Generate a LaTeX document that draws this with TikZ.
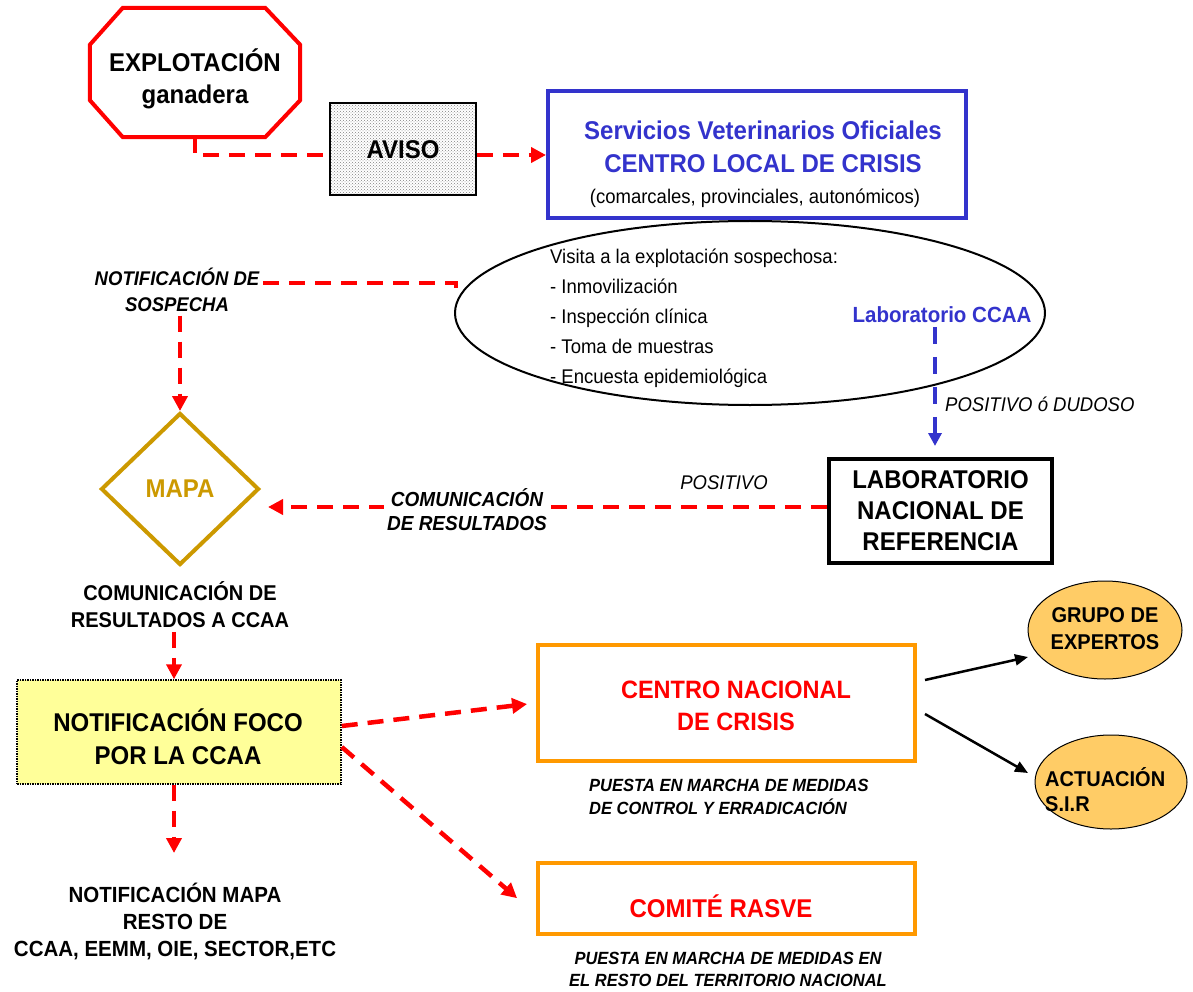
\documentclass[tikz,border=0pt]{standalone}
\usepackage{fontspec}
\setmainfont{Liberation Sans}[Scale=1.07,FakeStretch=0.935]
\usetikzlibrary{shapes.geometric,arrows.meta,patterns,calc}
\definecolor{vred}{HTML}{FF0000}
\definecolor{vblue}{HTML}{3333CC}
\definecolor{vgold}{HTML}{CC9900}
\definecolor{vorange}{HTML}{FF9900}
\definecolor{vyellow}{HTML}{FFFF99}
\definecolor{vpeach}{HTML}{FFCC66}
\newcommand\fsz[2]{\fontsize{#1pt}{#2pt}\selectfont}
\begin{document}
\begin{tikzpicture}[x=1pt,y=-1pt,
  rd/.style={draw=vred,line width=4.5pt,dash pattern=on 16pt off 10pt},
  rda/.style={rd,-{Triangle[length=15pt,width=15pt]}},
  bd/.style={draw=vblue,line width=4pt,dash pattern=on 17pt off 13pt,-{Triangle[length=13pt,width=13pt]}},
  ka/.style={draw=black,line width=2.5pt,-{Triangle[length=13pt,width=11pt]}},
  obox/.style={draw=vorange,line width=4pt,minimum width=377pt},
  peach/.style={ellipse,draw=black,line width=1pt,fill=vpeach,inner sep=0pt},
  bigb/.style={font=\bfseries\fsz{24}{32},align=center},
  midb/.style={font=\bfseries\fsz{20.5}{27},align=center},
  bital/.style={font=\bfseries\itshape\fsz{18.5}{26},align=center},
  ital/.style={font=\itshape\fsz{18.5}{22}}]
\useasboundingbox (0,0) rectangle (1193,992);

% ---------- top row ----------
\node[minimum width=210pt,minimum height=129pt,inner sep=0pt] (expl) at (195,72.5) {};
\draw[vred,line width=4pt,line join=miter]
  ($(expl.north west)+(33,0)$) -- ($(expl.north east)+(-35,0)$) --
  ($(expl.north east)+(0,37)$) -- ($(expl.south east)+(0,-37)$) --
  ($(expl.south east)+(-35,0)$) -- ($(expl.south west)+(33,0)$) --
  ($(expl.south west)+(0,-37)$) -- ($(expl.north west)+(0,37)$) -- cycle;
\node[bigb] (explt) at (195,79) {EXPLOTACIÓN\\ganadera};

\node[draw=black,line width=1.5pt,pattern=crosshatch dots,pattern color=black!50,
      minimum width=146pt,minimum height=92pt] (aviso) at (403,149) {};
\node[bigb] (avisot) at (403,150) {AVISO};

\node[draw=vblue,line width=4pt,minimum width=418pt,minimum height=127pt] (sv) at (757,155) {};
\node[bigb,text=vblue,font=\bfseries\fsz{24}{33}] (svt) at (763,146.5) {Servicios Veterinarios Oficiales\\CENTRO LOCAL DE CRISIS};
\node[font=\fsz{18.5}{22}] (svc) at (755,198) {(comarcales, provinciales, autonómicos)};

\draw[rd] (expl.south) |- (aviso.west |- sv.west);
\draw[rda] (aviso.east |- sv.west) -- (sv.west);

% ---------- visit ellipse ----------
\node[ellipse,draw=black,line width=2pt,minimum width=590pt,minimum height=184pt] (visit) at (750,313) {};
\node[anchor=west,align=left,font=\fsz{18.5}{30},inner sep=0pt] (visitt) at (550,318)
  {Visita a la explotación sospechosa:\\- Inmovilización\\- Inspección clínica\\- Toma de muestras\\- Encuesta epidemiológica};
\node[text=vblue,font=\bfseries\fsz{20.5}{24}] (labccaa) at (942,315) {Laboratorio CCAA};

% ---------- suspicion notice ----------
\node[bital] (ns) at (177,290) {NOTIFICACIÓN DE\\SOSPECHA};
\coordinate (nsA) at (263,283);
\coordinate (nsend) at (456,297);
\draw[rd] (nsA) -| (nsend);

% ---------- MAPA ----------
\node[diamond,draw=vgold,line width=4pt,minimum width=158pt,minimum height=152pt,inner sep=0pt,
      text=vgold,font=\bfseries\fsz{24}{28}] (mapa) at (180,489) {MAPA};
\draw[rda] (ns.south -| mapa.north) -- (mapa.north);

% ---------- national lab ----------
\node[draw=black,line width=4pt,minimum width=223pt,minimum height=104pt,bigb,font=\bfseries\fsz{24}{31}] (lnr) at (940.5,511) {LABORATORIO\\NACIONAL DE\\REFERENCIA};
\coordinate (bluebot) at ([xshift=-5.5pt]lnr.north);
\draw[bd,shorten >=11pt] (bluebot |- labccaa.south) -- (bluebot);
\node[ital,anchor=west,inner sep=0pt] (posdud) at (945,404) {POSITIVO ó DUDOSO};
\node[ital] (positivo) at (724,483) {POSITIVO};

\coordinate (mapaIn) at (268,507);
\draw[rda] (lnr.west |- mapaIn) -- (mapaIn);
\node[bital,fill=white,inner sep=3pt,font=\bfseries\itshape\fsz{19}{24}] (comres) at (467,510) {COMUNICACIÓN\\DE RESULTADOS};

\node[midb,font=\bfseries\fsz{20}{27}] (cra) at (180,605) {COMUNICACIÓN DE\\RESULTADOS A CCAA};

% ---------- foco ----------
\node[draw=black,densely dotted,line width=1.5pt,fill=vyellow,minimum width=324pt,minimum height=104pt] (foco) at (179,732) {};
\node[bigb,font=\bfseries\fsz{24}{33}] (focot) at (178,737) {NOTIFICACIÓN FOCO\\POR LA CCAA};
\coordinate (ftop) at ([xshift=-5pt]foco.north);
\draw[rda] (ftop |- cra.south) -- (ftop);

\node[midb] (nmapa) at (175,921) {NOTIFICACIÓN MAPA\\RESTO DE\\CCAA, EEMM, OIE, SECTOR,ETC};
\coordinate (fbot) at ([xshift=-5pt]foco.south);
\coordinate (nmtop) at (174,853);
\draw[rda] (fbot) -- (fbot |- nmtop);

% ---------- national crisis centre ----------
\node[obox,minimum height=116pt] (cnc) at (726.5,703) {};
\node[bigb,text=vred,font=\bfseries\fsz{23.5}{32}] (cnct) at (736,706) {CENTRO NACIONAL\\DE CRISIS};
\node[anchor=west,align=left,font=\bfseries\itshape\fsz{16.5}{23},inner sep=0pt] (pm1) at (589,797)
  {PUESTA EN MARCHA DE MEDIDAS\\DE CONTROL Y ERRADICACIÓN};

\node[obox,minimum height=71pt] (rasve) at (726.5,898.5) {};
\node[bigb,text=vred] (rasvet) at (721,906) {COMITÉ RASVE};
\node[align=center,font=\bfseries\itshape\fsz{16.5}{22}] (pm2) at (728,969)
  {PUESTA EN MARCHA DE MEDIDAS EN\\EL RESTO DEL TERRITORIO NACIONAL};

\coordinate (f1) at ([yshift=6pt]foco.east);
\coordinate (f2) at ([yshift=-15pt]foco.east);
\draw[rda,shorten >=9pt] (f1) -- (cnc.west);
\draw[rda,shorten >=25pt] (f2) -- ([yshift=-16pt]rasve.west);

% ---------- right ellipses ----------
\node[peach,minimum width=154pt,minimum height=98pt] (grupo) at (1105,630) {};
\node[midb,font=\bfseries\fsz{20}{27}] (grupot) at (1105,629) {GRUPO DE\\EXPERTOS};
\node[peach,minimum width=152pt,minimum height=94pt] (actu) at (1111,782) {};
\node[anchor=west,align=left,inner sep=0pt,font=\bfseries\fsz{20}{25}] (actut) at (1045,790) {ACTUACIÓN\\S.I.R};

\draw[ka] ([shift={(8,-23)}]cnc.east) -- ([shift={(-77,27)}]grupo.center);
\draw[ka] ([shift={(8,11)}]cnc.east) -- ([shift={(-83,-9)}]actu.center);
\end{tikzpicture}
\end{document}
